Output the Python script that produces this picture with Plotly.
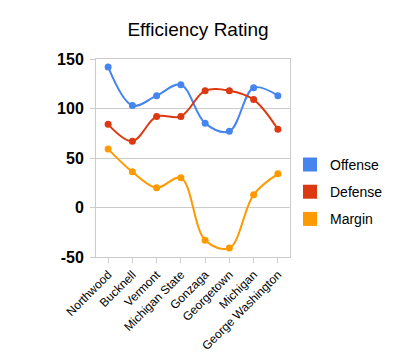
import plotly.graph_objects as go

categories = ["Northwood", "Bucknell", "Vermont", "Michigan State", "Gonzaga",
              "Georgetown", "Michigan", "George Washington"]
offense = [142, 103, 113, 124, 85, 77, 121, 113]
defense = [84, 67, 92, 92, 118, 118, 109, 79]
margin = [59, 36, 20, 30, -33, -41, 13, 34]
y_ticks = [-50, 0, 50, 100, 150]

series = [("Offense", offense, "#4684ee"),
          ("Defense", defense, "#dc3912"),
          ("Margin", margin, "#ff9900")]

fig = go.Figure()
for name, vals, col in series:
    fig.add_trace(go.Scatter(
        x=list(range(len(categories))), y=vals, mode="lines+markers",
        line=dict(color=col, width=2, shape="spline", smoothing=1.0),
        marker=dict(color=col, size=7), showlegend=False, name=name,
        hoverinfo="x+y"))
for name, vals, col in series:
    fig.add_trace(go.Scatter(
        x=[None], y=[None], mode="markers", name=name, legendgroup=name,
        marker=dict(color=col, size=14, symbol="square"), showlegend=True))

fig.update_layout(
    width=397, height=357,
    margin=dict(l=88, r=115, t=51, b=99),
    paper_bgcolor="white", plot_bgcolor="white",
    font=dict(family="Liberation Sans, Arial", color="black"),
    title=dict(text="Efficiency Rating", x=190 / 397, xref="container",
               xanchor="center", y=1 - 21 / 357, yanchor="middle",
               font=dict(size=19, color="black")),
    legend=dict(x=(282 - 88) / 194, xanchor="left", y=(258 - 145) / 207,
                yanchor="top", font=dict(size=14, color="black"),
                tracegroupgap=6, itemwidth=30, bgcolor="rgba(0,0,0,0)",
                traceorder="grouped"),
    showlegend=True,
)
fig.update_xaxes(
    range=[-0.5, len(categories) - 0.5],
    tickmode="array", tickvals=list(range(len(categories))), ticktext=categories,
    tickangle=-45, tickfont=dict(size=12, color="black"),
    tickson="boundaries", ticks="outside", ticklen=5, tickcolor="#cccccc",
    showgrid=False, showline=True, linecolor="#cccccc", linewidth=1, mirror=True,
    zeroline=False, fixedrange=True)
fig.update_yaxes(
    range=[-50, 150], tickmode="array", tickvals=y_ticks,
    ticktext=["<b>%d</b>" % v for v in y_ticks],
    tickfont=dict(size=16, color="black"), ticklabelstandoff=3,
    ticks="outside", ticklen=5, tickcolor="#cccccc",
    showgrid=True, gridcolor="#cccccc", gridwidth=1,
    showline=True, linecolor="#cccccc", linewidth=1, mirror=True,
    zeroline=False, fixedrange=True)

fig.write_html("out.html")
